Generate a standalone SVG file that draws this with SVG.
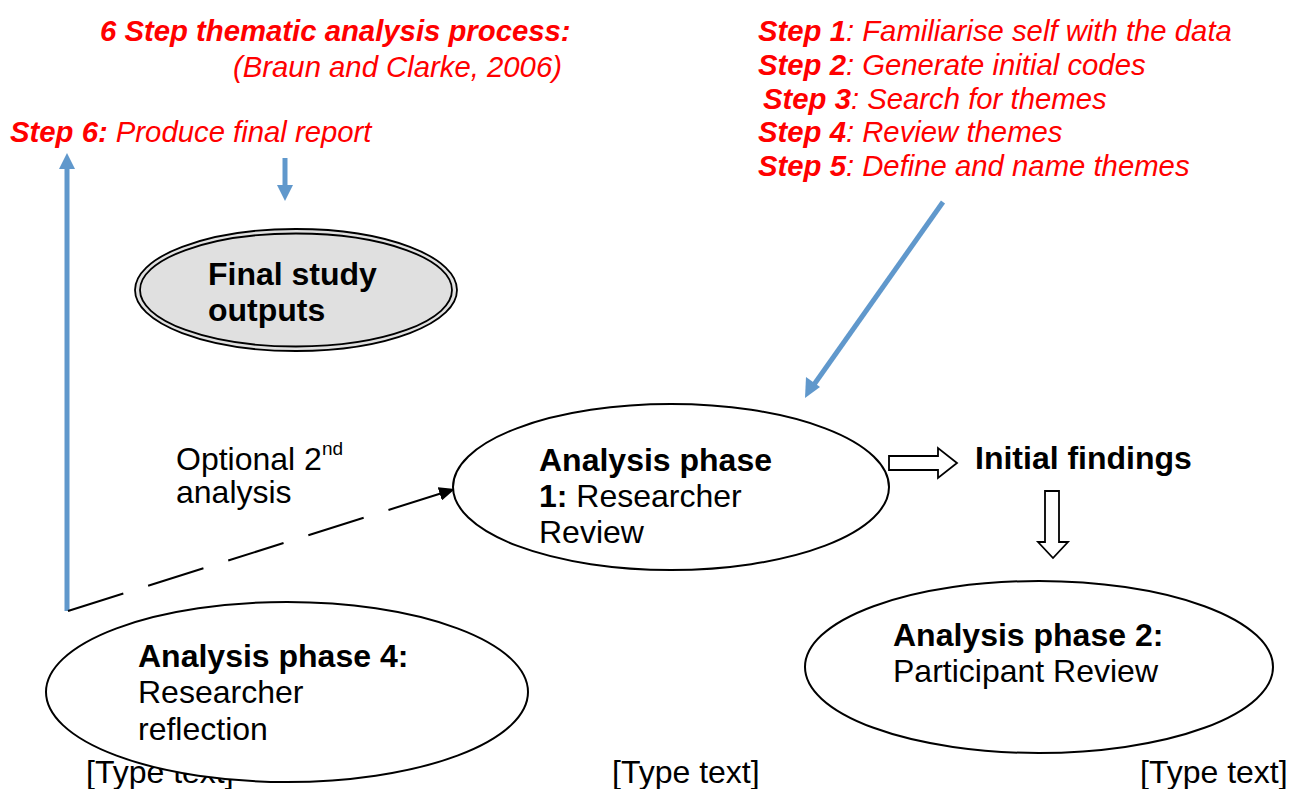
<svg xmlns="http://www.w3.org/2000/svg" width="1292" height="789" viewBox="0 0 1292 789">
<style>
.red{font-family:"Liberation Sans",Arial,sans-serif;font-size:29.3px;fill:#ff0000;font-style:italic}
.b{font-weight:bold}
.blk{font-family:"Liberation Sans",Arial,sans-serif;font-size:32px;fill:#000}
.node{fill:#fff;stroke:#000;stroke-width:2}
.blue{stroke:#6098cc;stroke-width:5;fill:none}
.bluehead{fill:#6098cc}
.block{fill:#fff;stroke:#000;stroke-width:1.8}
</style>
<defs>
<marker id="dash-head" markerUnits="userSpaceOnUse" markerWidth="18" markerHeight="14" refX="16" refY="7" orient="auto">
<path d="M0,0 L16,7 L0,14 z" fill="#000"/>
</marker>
</defs>
<rect width="1292" height="789" fill="#fff"/>

<g id="title">
<text class="red b" x="100" y="41">6 Step thematic analysis process:</text>
<text class="red" x="233" y="77">(Braun and Clarke, 2006)</text>
</g>
<g id="step6">
<text class="red" x="10" y="142"><tspan class="b">Step 6:</tspan> Produce final report</text>
</g>
<g id="steps">
<text class="red" x="758" y="41"><tspan class="b">Step 1</tspan>: Familiarise self with the data</text>
<text class="red" x="758" y="75"><tspan class="b">Step 2</tspan>: Generate initial codes</text>
<text class="red" x="763" y="109"><tspan class="b">Step 3</tspan>: Search for themes</text>
<text class="red" x="758" y="142"><tspan class="b">Step 4</tspan>: Review themes</text>
<text class="red" x="758" y="176"><tspan class="b">Step 5</tspan>: Define and name themes</text>
</g>

<g id="footer">
<text class="blk" x="86" y="783">[Type text]</text>
<text class="blk" x="612" y="783">[Type text]</text>
<text class="blk" x="1140" y="783">[Type text]</text>
</g>

<g id="connectors">
<line class="blue" x1="67" y1="611" x2="67" y2="166"/>
<polygon class="bluehead" points="67,153 75,169 59,169"/>
<line class="blue" x1="285" y1="158" x2="285" y2="188"/>
<polygon class="bluehead" points="285,201 293,185 277,185"/>
<line class="blue" x1="943" y1="202" x2="813" y2="386"/>
<polygon class="bluehead" points="805,398 806,377 820,387"/>
<line x1="68" y1="611" x2="455" y2="489" stroke="#000" stroke-width="2" stroke-dasharray="58 26" marker-end="url(#dash-head)"/>
<polygon class="block" points="889,456 938,456 938,448 957,463 938,478 938,470 889,470"/>
<polygon class="block" points="1045,491 1059,491 1059,542 1068,542 1053,558 1038,542 1045,542"/>
</g>

<g id="final-outputs">
<ellipse cx="296" cy="290" rx="161" ry="61" fill="#e0e0e0" stroke="#000" stroke-width="1.8"/>
<ellipse cx="296" cy="290" rx="156" ry="56.5" fill="none" stroke="#000" stroke-width="1.8"/>
<text class="blk b" x="208" y="285">Final study</text>
<text class="blk b" x="208" y="321">outputs</text>
</g>

<g id="optional-label">
<text class="blk" x="176" y="470">Optional 2<tspan font-size="19" dy="-15">nd</tspan></text>
<text class="blk" x="176" y="503">analysis</text>
</g>

<g id="phase1">
<ellipse class="node" cx="671" cy="487" rx="218" ry="83"/>
<text class="blk b" x="539" y="471">Analysis phase</text>
<text class="blk" x="539" y="507"><tspan class="b">1:</tspan> Researcher</text>
<text class="blk" x="539" y="543">Review</text>
</g>

<g id="initial-findings">
<text class="blk b" x="975" y="469">Initial findings</text>
</g>

<g id="phase2">
<ellipse class="node" cx="1039" cy="667" rx="234" ry="86"/>
<text class="blk b" x="893" y="646">Analysis phase 2:</text>
<text class="blk" x="893" y="682">Participant Review</text>
</g>

<g id="phase4">
<ellipse class="node" cx="287" cy="692" rx="241" ry="90"/>
<text class="blk b" x="138" y="667">Analysis phase 4:</text>
<text class="blk" x="138" y="703">Researcher</text>
<text class="blk" x="138" y="740">reflection</text>
</g>
</svg>
